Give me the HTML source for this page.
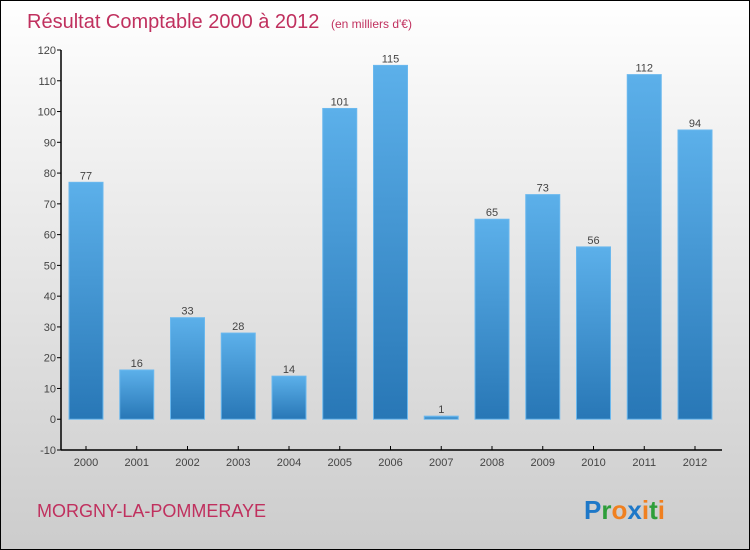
<!DOCTYPE html>
<html><head><meta charset="utf-8"><style>
html,body{margin:0;padding:0}
#wrap{position:relative;width:748px;height:548px;border:1px solid #000;background:linear-gradient(#ffffff,#f4f4f4 20%,#cccccc);font-family:"Liberation Sans",sans-serif;overflow:hidden}
svg{position:absolute;left:0;top:0}
</style></head><body>
<div id="wrap">
<svg id="chart" width="748" height="548">
<defs><linearGradient id="bg" x1="0" y1="0" x2="0" y2="1"><stop offset="0" stop-color="#5cb0ea"/><stop offset="1" stop-color="#2877b6"/></linearGradient></defs>
<text x="26" y="27" font-size="20" fill="#c0305e">Résultat Comptable 2000 à 2012 <tspan font-size="12" dx="6">(en milliers d'€)</tspan></text>
<text x="36" y="516" font-size="18" fill="#c0305e">MORGNY-LA-POMMERAYE</text>
<text x="583" y="518" font-size="26" font-weight="bold"><tspan fill="#1e78c8">P</tspan><tspan fill="#2e9e3a">r</tspan><tspan fill="#f08020">o</tspan><tspan fill="#1e78c8">x</tspan><tspan fill="#f08020">i</tspan><tspan fill="#2e9e3a">t</tspan><tspan fill="#f08020">i</tspan></text>
</svg>
</div>
<script>
const categories=["2000","2001","2002","2003","2004","2005","2006","2007","2008","2009","2010","2011","2012"];
const values=[77,16,33,28,14,101,115,1,65,73,56,112,94];
const yTicks=[-10,0,10,20,30,40,50,60,70,80,90,100,110,120];
const svg=document.getElementById('chart');
const NS='http://www.w3.org/2000/svg';
const yMin=-10,yMax=120,plotTop=49,plotBot=449,plotLeft=60,plotRight=721;
function yS(v){return plotBot-(v-yMin)/(yMax-yMin)*(plotBot-plotTop);}
function xS(i){return 85+i*50.75;}
function mk(t,a){const e=document.createElementNS(NS,t);for(const k in a)e.setAttribute(k,a[k]);svg.appendChild(e);return e;}
yTicks.forEach(t=>{
 const l=mk('line',{x1:plotLeft-4,x2:plotLeft,y1:yS(t),y2:yS(t),stroke:'#000'});
 
 
 const tx=mk('text',{x:plotLeft-5,y:yS(t)+4,'font-size':11,'text-anchor':'end',fill:'#444'});
 tx.textContent=t;
 
 
});
values.forEach((v,i)=>{
 const yt=yS(Math.max(v,0)),y0=yS(0);
 const r=mk('rect',{x:xS(i)-17,y:yt,width:34,height:Math.max(Math.abs(y0-yt),2),fill:'url(#bg)',stroke:'#6ab8ee','stroke-width':1});
 
 
 const t=mk('text',{x:xS(i),y:yt-3,'font-size':11,'text-anchor':'middle',fill:'#444'});
 t.textContent=v;
 
 
 const tk=mk('line',{x1:xS(i),x2:xS(i),y1:plotBot,y2:plotBot-4,stroke:'#000'});
 
 
 const c=mk('text',{x:xS(i),y:plotBot+16,'font-size':11,'text-anchor':'middle',fill:'#444'});
 c.textContent=categories[i];
 
 
});
const ya=mk('line',{x1:plotLeft,x2:plotLeft,y1:plotTop,y2:plotBot,stroke:'#000','stroke-width':1.5});


const xa=mk('line',{x1:plotLeft,x2:plotRight,y1:plotBot,y2:plotBot,stroke:'#000','stroke-width':1.5});


</script>
</body></html>
